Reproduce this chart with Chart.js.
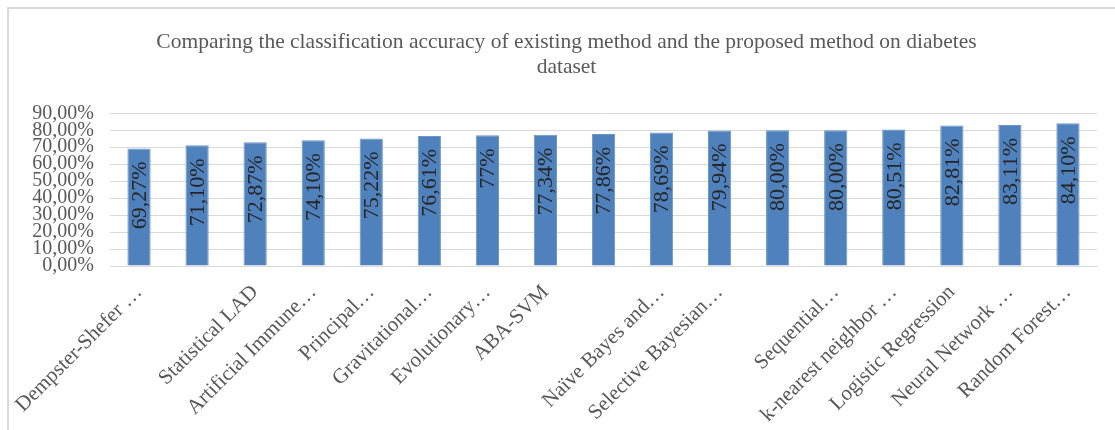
<!DOCTYPE html>
<html>
<head>
<meta charset="utf-8">
<script src="https://cdn.jsdelivr.net/npm/chart.js@4/dist/chart.umd.min.js"></script>
<style>
  html, body { margin: 0; padding: 0; background: #fff; }
  #wrap { position: absolute; left: 0; top: 0; width: 1115px; height: 430px; }
  #frame { position: absolute; left: 7px; top: 7px; width: 1108px; height: 423px;
           border-left: 2px solid #d9d9d9; border-top: 2px solid #d9d9d9; box-sizing: border-box; }
</style>
</head>
<body>
<div id="wrap">
  <canvas id="chart" width="1115" height="430"></canvas>
  <div id="frame"></div>
</div>
<script>
// dữ liệu
const categories = [
  'Dempster-Shefer …', '', 'Statistical LAD', 'Artificial Immune…', 'Principal…',
  'Gravitational…', 'Evolutionary…', 'ABA-SVM', '', 'Naïve Bayes and…',
  'Selective Bayesian…', '', 'Sequential…', 'k-nearest neighbor …',
  'Logistic Regression', 'Neural Network …', 'Random Forest…'
];
const accuracy = [69.27, 71.10, 72.87, 74.10, 75.22, 76.61, 77, 77.34, 77.86,
                  78.69, 79.94, 80.00, 80.00, 80.51, 82.81, 83.11, 84.10];
const accuracyLabels = ['69,27%', '71,10%', '72,87%', '74,10%', '75,22%', '76,61%', '77%',
                        '77,34%', '77,86%', '78,69%', '79,94%', '80,00%', '80,00%',
                        '80,51%', '82,81%', '83,11%', '84,10%'];
const titleLines = [
  'Comparing the classification accuracy of existing method and the proposed method on diabetes',
  'dataset'
];

const FONT = '"Liberation Serif", "Times New Roman", serif';

// nhãn giá trị xoay dọc trong cột
const barValueLabels = {
  id: 'barValueLabels',
  afterDatasetsDraw(chart) {
    const ctx = chart.ctx;
    const meta = chart.getDatasetMeta(0);
    ctx.save();
    ctx.font = '22px ' + FONT;
    ctx.fillStyle = '#262626';
    ctx.textAlign = 'right';
    ctx.textBaseline = 'middle';
    meta.data.forEach((bar, i) => {
      ctx.save();
      ctx.translate(bar.x + 1, bar.y + 13);
      ctx.rotate(-Math.PI / 2);
      ctx.fillText(accuracyLabels[i], 0, 0);
      ctx.restore();
    });
    ctx.restore();
  }
};

new Chart(document.getElementById('chart').getContext('2d'), {
  type: 'bar',
  data: {
    labels: categories,
    datasets: [{
      data: accuracy,
      backgroundColor: '#4f81bd',
      borderColor: '#6b95c8',
      borderWidth: 1,
      categoryPercentage: 1,
      barPercentage: 0.4
    }]
  },
  options: {
    responsive: false,
    animation: false,
    layout: { padding: { left: 18, right: 0, top: 0, bottom: 0 } },
    plugins: {
      legend: { display: false },
      tooltip: { enabled: false },
      title: {
        display: true,
        text: titleLines,
        color: '#595959',
        font: { family: FONT, size: 21.5, weight: 'normal', lineHeight: 1.17 },
        padding: { top: 30, bottom: 33 }
      }
    },
    scales: {
      x: {
        grid: { display: false },
        border: { color: '#d9d9d9', width: 1 },
        ticks: {
          color: '#595959',
          font: { family: FONT, size: 21 },
          autoSkip: false,
          maxRotation: 45,
          minRotation: 45,
          padding: 6
        },
        afterFit(scale) { scale.height = 164; }
      },
      y: {
        min: 0,
        max: 90,
        grid: { color: '#d9d9d9', drawTicks: false },
        border: { display: false },
        ticks: {
          stepSize: 10,
          autoSkip: false,
          color: '#595959',
          font: { family: FONT, size: 20 },
          padding: 16,
          callback: v => v.toFixed(2).replace('.', ',') + '%'
        },
        afterFit(scale) { scale.width = 92; }
      },
      // trục trống bên phải chỉ để chừa khoảng trắng
      yRight: {
        position: 'right',
        grid: { display: false },
        border: { display: false },
        ticks: { display: false },
        afterFit(scale) { scale.width = 18; }
      }
    }
  },
  plugins: [barValueLabels]
});
</script>
</body>
</html>
